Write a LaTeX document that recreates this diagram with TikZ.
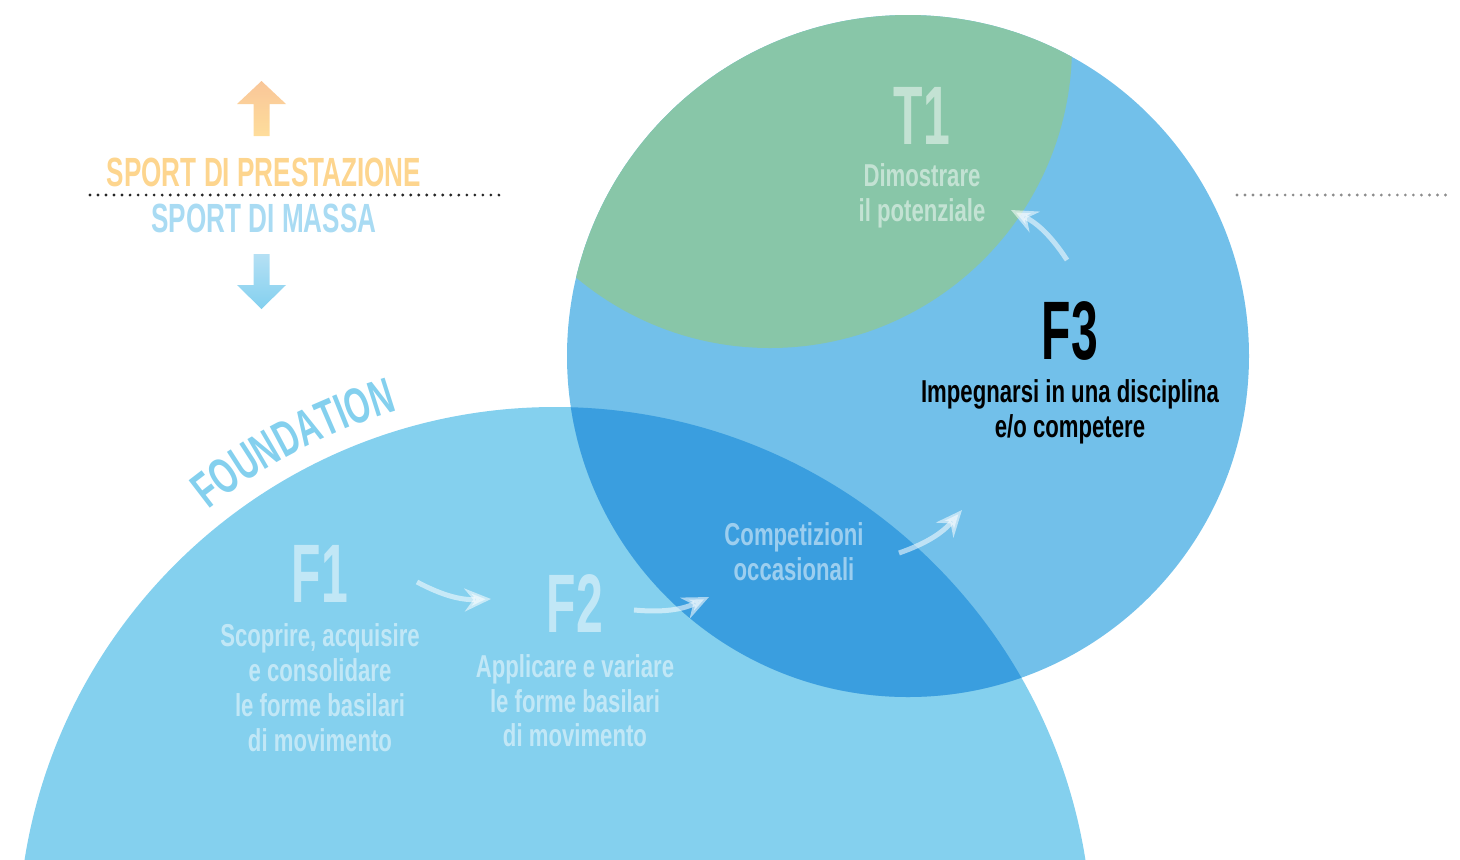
\documentclass[tikz,border=0pt]{standalone}
\usepackage{fontspec}
\newfontfamily\bodyfont[FakeStretch=0.7]{Liberation Sans}
\newfontfamily\headfont[FakeStretch=0.64]{Liberation Sans}
\newfontfamily\titlefont[FakeStretch=0.58]{Liberation Sans}
\usetikzlibrary{arrows.meta,positioning,calc,decorations.text}

\definecolor{bigblue}{HTML}{84D0EE}
\definecolor{fthreeblue}{HTML}{72C0EA}
\definecolor{overlapblue}{HTML}{3A9EDF}
\definecolor{tgreen}{HTML}{88C6A8}
\definecolor{prestorange}{HTML}{FDD58E}
\definecolor{massablue}{HTML}{A9DBF3}
\definecolor{uptop}{HTML}{F9C699}
\definecolor{upbottom}{HTML}{FEDD9B}
\definecolor{downtop}{HTML}{B5E0F4}
\definecolor{downbottom}{HTML}{83D0EF}

\tikzset{
  head/.style={inner sep=0pt, font=\headfont\bfseries\fontsize{11.6pt}{11.6pt}\selectfont},
  phase/.style={inner sep=0pt, text=white, text opacity=0.5, font=\titlefont\bfseries\fontsize{23.6pt}{23.6pt}\selectfont},
  phasetxt/.style={inner sep=0pt, align=center, text=white, text opacity=0.5, font=\bodyfont\bfseries\fontsize{9pt}{9.87pt}\selectfont},
  flow/.style={line width=1.42pt, white, opacity=0.55, -{Stealth[length=7.5pt,width=6.5pt,inset=2.5pt]}},
  dots/.style={line width=0.9pt, line cap=round, dash pattern=on 0pt off 2.28pt}
}

\begin{document}
\begin{tikzpicture}[x=0.01cm,y=0.01cm]
	\clip (0,0) rectangle (1460,859);

	% circles
	\coordinate (bigc) at (555,-85);
	\coordinate (f3c) at (908,503);
	\coordinate (tc) at (770,813);
	\fill[bigblue] (bigc) circle (537);
	\fill[fthreeblue] (f3c) circle (341);
	\begin{scope}
		\clip (f3c) circle (341);
		\fill[tgreen] (tc) circle (302);
		\fill[overlapblue] (bigc) circle (537);
	\end{scope}

	% separators
	\draw[dots, black!85] (90,664) -- (503,664);
	\draw[dots, black!45] (1237,664) -- (1450,664);

	% big arrows
	\shade[top color=uptop, bottom color=upbottom] (253.5,723) -- (253.5,755) -- (237,755) -- (261.5,778)
		-- (286,755) -- (269.5,755) -- (269.5,723) -- cycle;
	\shade[top color=downtop, bottom color=downbottom] (253.5,605) -- (253.5,574) -- (237,574) -- (261.5,550)
		-- (286,574) -- (269.5,574) -- (269.5,605) -- cycle;

	\path[decorate, decoration={text along path, text align=center, text color=bigblue,
		text={|\headfont\bfseries\fontsize{14.3pt}{14.3pt}\selectfont|FOUNDATION}}]
		($(bigc)+(140:556)$) arc[start angle=140, end angle=95, radius=556];

	\begin{scope}
		\node[head, text=prestorange] (prest) at (264,687) {SPORT DI PRESTAZIONE};
		\node[head, text=massablue] (massa) at (264,641) {SPORT DI MASSA};

		\node[phase] (f1) at (320,285) {F1};
		\node[phasetxt, below=5.7pt of f1] (f1txt) {Scoprire, acquisire\\e consolidare\\le forme basilari\\di movimento};
		\node[phase] (f2) at (575,255) {F2};
		\node[phasetxt, below=5.7pt of f2] (f2txt) {Applicare e variare\\le forme basilari\\di movimento};
		\node[phase] (t1) at (922,743) {T1};
		\node[phasetxt, below=5pt of t1] (t1txt) {Dimostrare\\il potenziale};
		\node[phasetxt] (comp) at (794,307) {Competizioni\\occasionali};
		\node[phase, text=black, text opacity=1] (f3) at (1070,528) {F3};
		\node[phasetxt, text=black, text opacity=1, below=5pt of f3] (f3txt) {Impegnarsi in una disciplina\\e/o competere};
	\end{scope}

	\coordinate (f1out) at (417,277);
	\coordinate (f2in) at (491,260);
	\coordinate (f2out) at (634,249);
	\coordinate (compin) at (709,262);
	\coordinate (compout) at (899,306);
	\coordinate (f3in) at (962,349);
	\coordinate (f3out) at (1067,599);
	\coordinate (t1in) at (1011,649);

	\begin{scope}[flow]
		\draw (f1out) to[bend right=15] (f2in);
		\draw (f2out) to[bend right=15] (compin);
		\draw (compout) to[bend right=15] (f3in);
		\draw (f3out) to[bend right=15] (t1in);
	\end{scope}
\end{tikzpicture}
\end{document}
